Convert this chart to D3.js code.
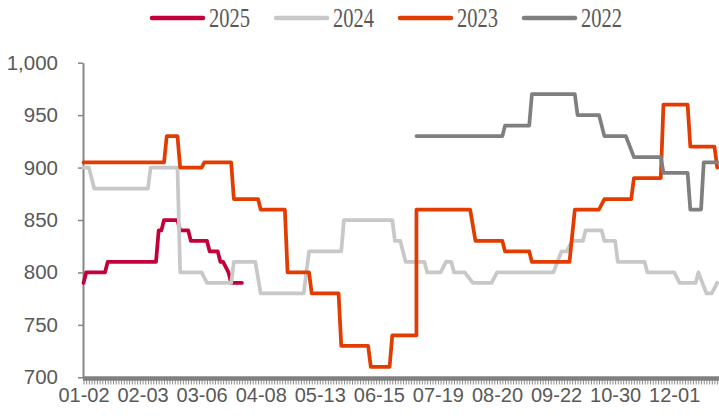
<!DOCTYPE html>
<html>
<head>
<meta charset="utf-8">
<script src="https://cdn.jsdelivr.net/npm/d3@7/dist/d3.min.js"></script>
<style>
  html, body { margin: 0; padding: 0; background: #ffffff; }
  svg { display: block; }
</style>
</head>
<body>
<svg id="chart" width="719" height="419"></svg>
<script>
// Category axis: trading-day slots, one label every 22 slots
const categoryCount = 237;
const labelEvery = 22;
const tickLabels = ["01-02", "02-03", "03-06", "04-08", "05-13", "06-15",
                    "07-19", "08-20", "09-22", "10-30", "12-01"];
const yTicks = [700, 750, 800, 850, 900, 950, 1000];

// Each series: [slot, price] vertices of the stepped price line
const series2025 = [[0,790],[1,800],[8,800],[9,810],[27,810],[28,840],[29,840],[30,850],
  [35,850],[36,840],[39,840],[40,830],[46,830],[47,820],[50,820],[51,810],[52,810],
  [53,805],[54,800],[55,790],[59,790]];
const series2024 = [[0,900],[2,900],[4,880],[24,880],[25,900],[35,900],[36,800],[44,800],
  [46,790],[55,790],[56,810],[64,810],[66,780],[82,780],[84,820],[96,820],[97,850],
  [115,850],[116,830],[118,830],[120,810],[127,810],[128,800],[133,800],[135,810],
  [137,810],[138,800],[142,800],[145,790],[152,790],[154,800],[175,800],[178,820],
  [180,820],[182,830],[186,830],[187,840],[193,840],[194,830],[198,830],[199,810],
  [209,810],[210,800],[220,800],[222,790],[228,790],[229,800],[232,780],[234,780],
  [236,790]];
const series2023 = [[0,905],[30,905],[31,930],[35,930],[36,900],[44,900],[45,905],
  [55,905],[56,870],[65,870],[66,860],[75,860],[76,800],[84,800],[85,780],[95,780],
  [96,730],[106,730],[107,710],[114,710],[115,740],[124,740],[124,860],[144,860],
  [146,830],[156,830],[157,820],[166,820],[167,810],[181,810],[183,860],[192,860],
  [194,870],[204,870],[205,890],[215,890],[216,960],[225,960],[226,920],[235,920],
  [236,900]];
const series2022 = [[124,930],[156,930],[157,940],[166,940],[167,970],[183,970],
  [184,950],[192,950],[194,930],[202,930],[205,910],[215,910],[216,895],[225,895],
  [226,860],[230,860],[231,905],[236,905]];

const seriesNames = ["2025", "2024", "2023", "2022"];
const seriesData = [series2025, series2024, series2023, series2022];
const seriesColors = ["#C3003A", "#C8C8C8", "#E23C00", "#7F7F7F"];

const svg = d3.select("#chart");
const axisColor = "#868686";
const textColor = "#595959";

const x = d3.scaleLinear()
  .domain([0, categoryCount - 1])
  .range([83.5, 83.5 + (categoryCount - 1) * 2.685]);
const y = d3.scaleLinear().domain([700, 1000]).range([377.3, 62.7]);

// Value axis
const yAxis = svg.append("g")
  .attr("transform", "translate(83,0)")
  .call(d3.axisLeft(y).tickValues(yTicks).tickSize(5).tickSizeOuter(0)
    .tickPadding(20).tickFormat(d3.format(",")));
yAxis.select(".domain").attr("stroke", axisColor).attr("stroke-width", 2);
yAxis.selectAll(".tick line").attr("stroke", axisColor).attr("stroke-width", 1.5);
yAxis.selectAll(".tick text")
  .attr("fill", textColor)
  .style("font-family", "'Liberation Sans', Arial, sans-serif")
  .style("font-size", "20.5px");

// Category axis: dense per-slot tick marks under a heavy baseline
const xTickAxis = svg.append("g")
  .attr("transform", "translate(0,378.5)")
  .call(d3.axisBottom(x).tickValues(d3.range(categoryCount)).tickSize(6)
    .tickSizeOuter(0).tickFormat(""));
xTickAxis.select(".domain").remove();
xTickAxis.selectAll(".tick line").attr("stroke", "#8a8a8a").attr("stroke-width", 1);
svg.append("line")
  .attr("x1", 83).attr("x2", 719)
  .attr("y1", 378.5).attr("y2", 378.5)
  .attr("stroke", "#808080").attr("stroke-width", 4.5);

const xLabelAxis = svg.append("g")
  .attr("transform", "translate(0,388)")
  .call(d3.axisBottom(x)
    .tickValues(tickLabels.map((_, i) => i * labelEvery))
    .tickSize(0).tickPadding(0)
    .tickFormat((d) => tickLabels[d / labelEvery]));
xLabelAxis.select(".domain").remove();
xLabelAxis.selectAll(".tick text")
  .attr("fill", textColor)
  .attr("dy", "0.71em")
  .style("font-family", "'Liberation Sans', Arial, sans-serif")
  .style("font-size", "20px");

// Price lines
const line = d3.line().x((d) => x(d[0])).y((d) => y(d[1]));
svg.append("g").selectAll("path")
  .data(seriesData)
  .join("path")
  .attr("d", line)
  .attr("fill", "none")
  .attr("stroke", (d, i) => seriesColors[i])
  .attr("stroke-width", 3.75)
  .attr("stroke-linejoin", "round")
  .attr("stroke-linecap", "round");

// Legend
const legend = svg.append("g").attr("transform", "translate(151,0)");
const items = legend.selectAll("g")
  .data(seriesNames)
  .join("g")
  .attr("transform", (d, i) => `translate(${i * 124},0)`);
items.append("line")
  .attr("x1", 1).attr("x2", 52)
  .attr("y1", 18).attr("y2", 18)
  .attr("stroke", (d, i) => seriesColors[i])
  .attr("stroke-width", 4.5)
  .attr("stroke-linecap", "round");
items.append("text")
  .attr("x", 58).attr("y", 27)
  .attr("fill", textColor)
  .attr("textLength", 41)
  .attr("lengthAdjust", "spacingAndGlyphs")
  .style("font-family", "'Liberation Serif', 'Times New Roman', serif")
  .style("font-size", "27px")
  .text((d) => d);
</script>
</body>
</html>
